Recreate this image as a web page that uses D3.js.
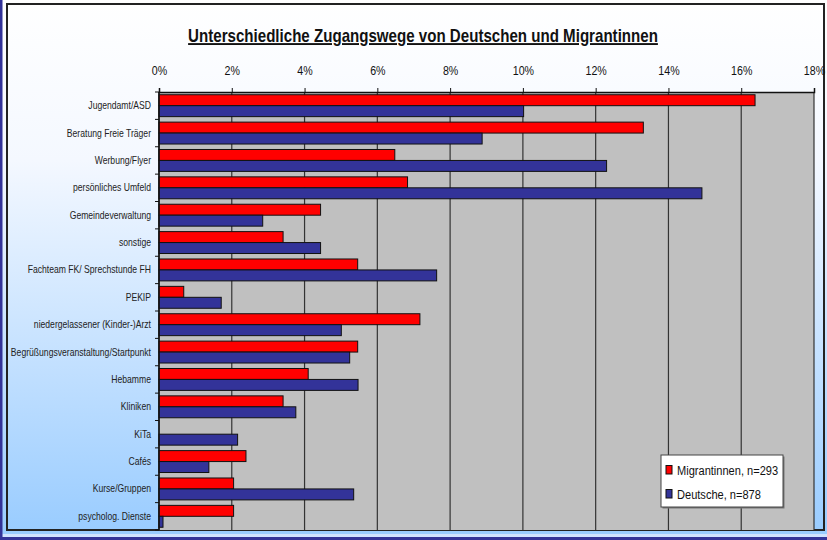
<!DOCTYPE html>
<html>
<head>
<meta charset="utf-8">
<script src="https://cdn.jsdelivr.net/npm/d3@7"></script>
<style>
  html, body { margin: 0; padding: 0; background: #fff; }
  svg { display: block; font-family: "Liberation Sans", Arial, sans-serif; }
</style>
</head>
<body>
<svg id="chart" width="827" height="540"></svg>
<script>
// data (percent of each group)
const categories = [
  "Jugendamt/ASD", "Beratung Freie Träger", "Werbung/Flyer", "persönliches Umfeld",
  "Gemeindeverwaltung", "sonstige", "Fachteam FK/ Sprechstunde FH", "PEKIP",
  "niedergelassener (Kinder-)Arzt", "Begrüßungsveranstaltung/Startpunkt", "Hebamme",
  "Kliniken", "KiTa", "Cafés", "Kurse/Gruppen", "psycholog. Dienste"
];
const migrantinnen = [16.38, 13.31, 6.48, 6.83, 4.44, 3.41, 5.46, 0.68, 7.17, 5.46, 4.10, 3.41, 0, 2.39, 2.05, 2.05];
const deutsche     = [10.02, 8.88, 12.30, 14.92, 2.85, 4.44, 7.63, 1.71, 5.01, 5.24, 5.47, 3.76, 2.16, 1.37, 5.35, 0.11];
const seriesNames  = ["Migrantinnen, n=293", "Deutsche, n=878"];
const seriesColors = ["#ff0000", "#333399"];
const xTicks = [0, 2, 4, 6, 8, 10, 12, 14, 16, 18];
const title = "Unterschiedliche Zugangswege von Deutschen und Migrantinnen";

const W = 827, H = 540;
const plot = { left: 159, right: 814, top: 92, bottom: 530 };
const NARROW = 0.82; // squeeze to mimic a narrow font

const svg = d3.select("#chart");
const defs = svg.append("defs");

const bg = defs.append("linearGradient").attr("id", "bg").attr("x1", 0).attr("y1", 0).attr("x2", 0).attr("y2", 1);
bg.append("stop").attr("offset", "0%").attr("stop-color", "#ffffff");
bg.append("stop").attr("offset", "30%").attr("stop-color", "#f4f8ff");
bg.append("stop").attr("offset", "100%").attr("stop-color", "#99ccff");

// slide background + blue edges
svg.append("rect").attr("width", W).attr("height", H).attr("fill", "#cfe2ff");
svg.append("rect").attr("x", 2).attr("y", 0).attr("width", W - 2).attr("height", 534).attr("fill", "url(#bg)");
svg.append("rect").attr("x", 0).attr("y", 0).attr("width", 2.5).attr("height", H).attr("fill", "#333399");
svg.append("rect").attr("x", 0).attr("y", 537).attr("width", W).attr("height", 3).attr("fill", "#333399");

// chart frame
svg.append("rect")
  .attr("x", 7).attr("y", 4).attr("width", 817).attr("height", 526)
  .attr("fill", "none").attr("stroke", "#222").attr("stroke-width", 2);

// title
const t = svg.append("text")
  .attr("font-size", 19).attr("font-weight", "bold")
  .attr("text-decoration", "underline")
  .attr("text-anchor", "middle")
  .attr("fill", "#111")
  .text(title);
const tw = t.node().getComputedTextLength();
t.attr("transform", `translate(423,42) scale(${470 / tw},1)`);

const x = d3.scaleLinear().domain([0, 18]).range([plot.left, plot.right]);
const y = d3.scaleBand().domain(categories).range([plot.top, plot.bottom]).paddingInner(0.2).paddingOuter(0.1);
const ySub = d3.scaleBand().domain([0, 1]).range([0, y.bandwidth()]);

// plot area
svg.append("rect")
  .attr("x", plot.left).attr("y", plot.top)
  .attr("width", plot.right - plot.left).attr("height", plot.bottom - plot.top)
  .attr("fill", "#c0c0c0");

// gridlines
svg.append("g").selectAll("line").data(xTicks).join("line")
  .attr("x1", d => x(d)).attr("x2", d => x(d))
  .attr("y1", plot.top).attr("y2", plot.bottom)
  .attr("stroke", "#333").attr("stroke-width", 1.2);

// top axis
const xAxis = svg.append("g").attr("transform", `translate(0,${plot.top})`)
  .call(d3.axisTop(x).tickValues(xTicks).tickSize(4).tickPadding(4).tickFormat(d => d + "%"));
xAxis.select(".domain").attr("stroke", "#111").attr("stroke-width", 1.5);
xAxis.selectAll(".tick line").attr("stroke", "#111");
xAxis.selectAll(".tick text")
  .attr("font-size", 13).attr("fill", "#111").attr("y", 0).attr("dy", 0)
  .attr("transform", `translate(0,-17) scale(${NARROW},1)`);

// category ticks on the left axis
const bounds = d3.range(categories.length + 1).map(i => plot.top + i * (plot.bottom - plot.top) / categories.length);
svg.append("g").selectAll("line").data(bounds).join("line")
  .attr("x1", plot.left - 4).attr("x2", plot.left)
  .attr("y1", d => d).attr("y2", d => d)
  .attr("stroke", "#111");

// category labels
svg.append("g").selectAll("text").data(categories).join("text")
  .attr("text-anchor", "end")
  .attr("font-size", 10.5).attr("fill", "#222")
  .attr("transform", d => `translate(151,${y(d) + y.bandwidth() / 2 + 3.5}) scale(${NARROW},1)`)
  .text(d => d);

// bars
const rows = categories.map((c, i) => ({ c, vals: [migrantinnen[i], deutsche[i]] }));
const grp = svg.append("g").selectAll("g").data(rows).join("g")
  .attr("transform", d => `translate(0,${y(d.c)})`);
grp.selectAll("rect").data(d => d.vals.map((v, k) => ({ v, k })).filter(e => e.v > 0)).join("rect")
  .attr("x", x(0))
  .attr("y", d => ySub(d.k))
  .attr("width", d => x(d.v) - x(0))
  .attr("height", ySub.bandwidth())
  .attr("fill", d => seriesColors[d.k])
  .attr("stroke", "#111").attr("stroke-width", 1);

// left axis line
svg.append("line").attr("x1", plot.left).attr("x2", plot.left)
  .attr("y1", plot.top).attr("y2", plot.bottom).attr("stroke", "#111").attr("stroke-width", 1.5);

// legend
const lg = svg.append("g").attr("transform", "translate(661,455)");
lg.append("rect").attr("x", 1.5).attr("y", 1.5).attr("width", 122).attr("height", 52).attr("fill", "#777");
lg.append("rect").attr("width", 122).attr("height", 52).attr("fill", "#fff").attr("stroke", "#444");
seriesNames.forEach((name, i) => {
  lg.append("rect").attr("x", 5).attr("y", 10.5 + i * 24).attr("width", 6).attr("height", 8.5)
    .attr("fill", seriesColors[i]).attr("stroke", "#111");
  lg.append("text").attr("font-size", 13.5).attr("fill", "#111")
    .attr("transform", `translate(16,${20 + i * 24}) scale(${NARROW},1)`)
    .text(name);
});
</script>
</body>
</html>
